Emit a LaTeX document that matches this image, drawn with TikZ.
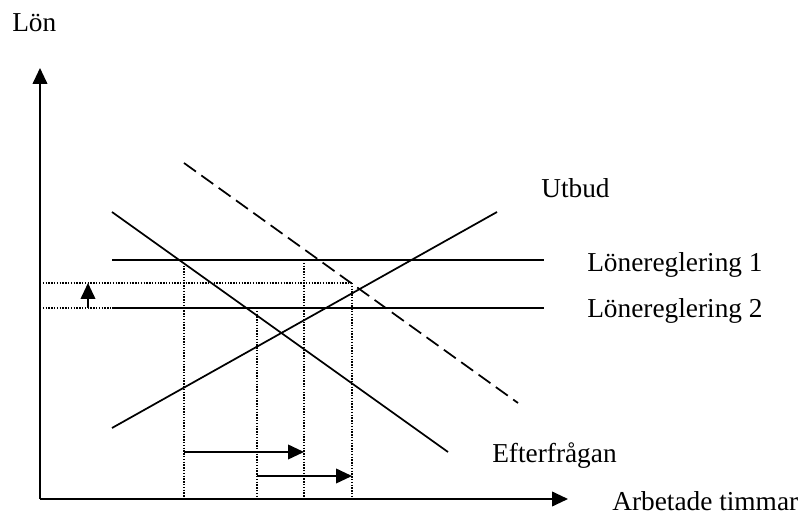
\documentclass[tikz,border=0pt]{standalone}
\usepackage{fontspec}
\setmainfont{Liberation Serif}
\usetikzlibrary{arrows.meta}

\begin{document}
\begin{tikzpicture}[x=0.75pt,y=-0.75pt,
	>={Triangle[length=12pt,width=11pt]},
	curve/.style={line width=1.3pt},
	shifted/.style={curve,dash pattern=on 11pt off 5pt},
	guide/.style={line width=1pt,dash pattern=on 1pt off 1.1pt},
	lbl/.style={anchor=base west,inner sep=0pt,font=\fontsize{20.5}{24}\selectfont},
]
	\useasboundingbox (0,0) rectangle (808,516);
	% axes
	\coordinate (o) at (40,499);
	\coordinate (ytop) at (40,68);
	\coordinate (xend) at (568,499);
	\draw[->,line width=1.4pt] (o) -- (ytop);
	\draw[->,line width=1.4pt] (o) -- (xend);
	\node[lbl] (lon) at (12,32) {Lön};
	\node[lbl] (timmar) at (612,511) {Arbetade timmar};

	% supply, demand and shifted demand
	\coordinate (s1) at (112,428);
	\coordinate (s2) at (497,212);
	\coordinate (d1) at (112,212);
	\coordinate (d2) at (448,452);
	\coordinate (n1) at (184,163);
	\coordinate (n2) at (518,403);
	\draw[curve] (s1) -- (s2);
	\draw[curve] (d1) -- (d2);
	\draw[shifted] (n1) -- (n2);
	\node[lbl] (utbud) at (541,198) {Utbud};
	\node[lbl] (efter) at (492,463) {Efterfrågan};

	% wage regulations
	\coordinate (r1a) at (112,260);
	\coordinate (r1b) at (544,260);
	\coordinate (r2a) at (112,308);
	\coordinate (r2b) at (544,308);
	\draw[curve] (r1a) -- (r1b);
	\draw[curve] (r2a) -- (r2b);
	\node[lbl] (reg1) at (587,272) {Lönereglering 1};
	\node[lbl] (reg2) at (587,318) {Lönereglering 2};

	% guides
	\coordinate (g1) at (352,283);
	\draw[guide] (o|-g1) -- (g1);
	\draw[guide] (o|-r2a) -- (r2a);
	\foreach \x/\y in {184/260, 257/308, 304/260, 352/283}{
		\draw[guide] (\x,\y) -- (\x,499);
	}

	% shifts
	\coordinate (w1) at (88,308);
	\coordinate (w2) at (88,283);
	\draw[->,curve] (w1) -- (w2);
	\coordinate (h1) at (184,452);
	\coordinate (h2) at (304,452);
	\coordinate (h3) at (257,476);
	\coordinate (h4) at (352,476);
	\draw[->,curve] (h1) -- (h2);
	\draw[->,curve] (h3) -- (h4);
\end{tikzpicture}
\end{document}
